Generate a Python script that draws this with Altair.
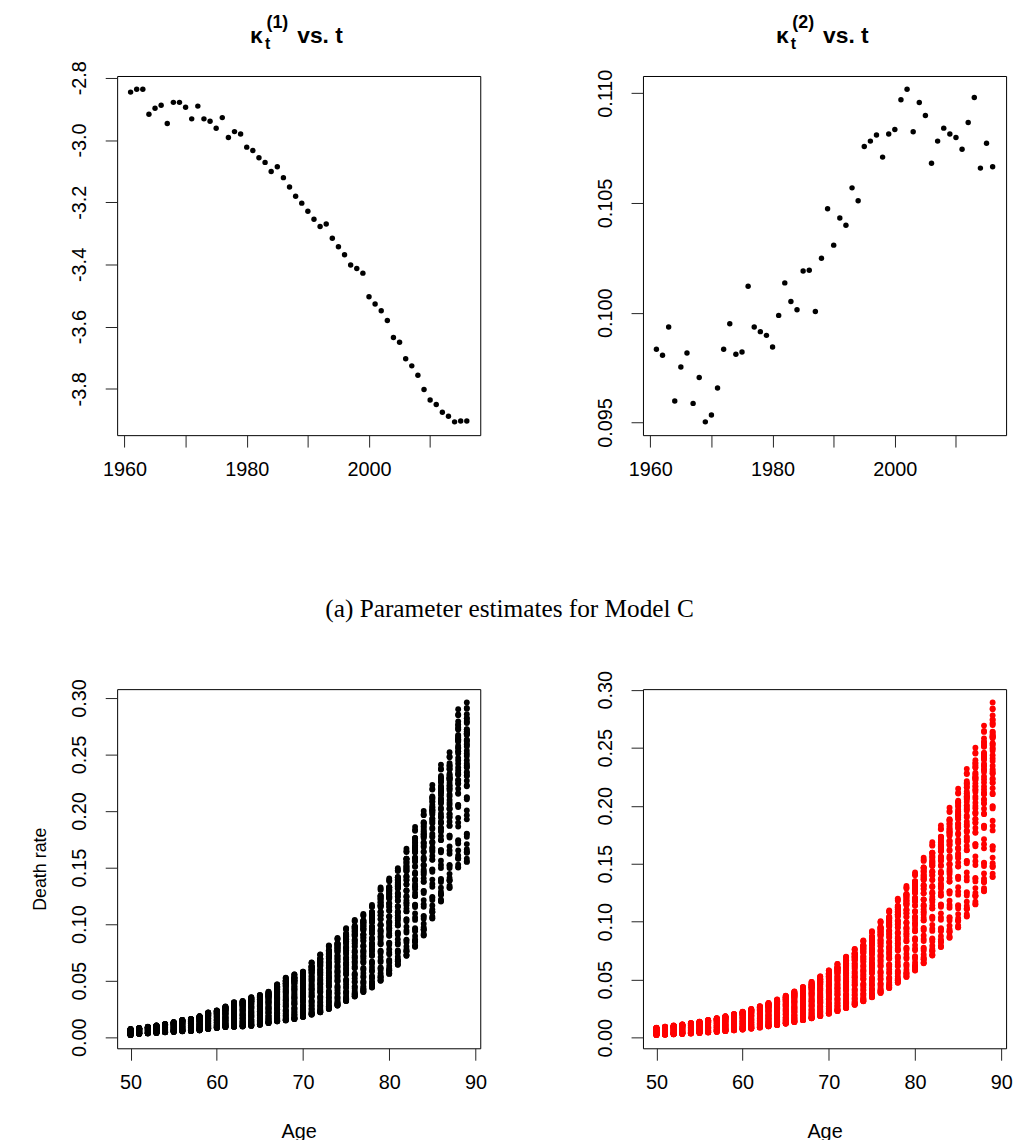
import altair as alt
import numpy as np
import pandas as pd

# ---------------- data ----------------
years = list(range(1961, 2017))

kappa1 = [-2.846, -2.837, -2.837, -2.917, -2.898, -2.888, -2.947, -2.879, -2.879, -2.895,
          -2.932, -2.891, -2.932, -2.940, -2.962, -2.928, -2.992, -2.973, -2.981, -3.023,
          -3.034, -3.057, -3.072, -3.101, -3.086, -3.121, -3.151, -3.181, -3.203, -3.229,
          -3.255, -3.278, -3.270, -3.316, -3.343, -3.369, -3.402, -3.413, -3.428, -3.504,
          -3.527, -3.549, -3.580, -3.635, -3.650, -3.703, -3.726, -3.756, -3.802, -3.836,
          -3.850, -3.875, -3.888, -3.906, -3.903, -3.903]

kappa2 = [0.09834, 0.09806, 0.09935, 0.09598, 0.09753, 0.09817, 0.09587, 0.09705, 0.09503, 0.09534,
          0.09657, 0.09834, 0.09950, 0.09811, 0.09821, 0.10121, 0.09935, 0.09914, 0.09897, 0.09844,
          0.09988, 0.10136, 0.10051, 0.10014, 0.10190, 0.10194, 0.10006, 0.10248, 0.10474, 0.10308,
          0.10432, 0.10399, 0.10569, 0.10510, 0.10757, 0.10782, 0.10810, 0.10709, 0.10814, 0.10835,
          0.10970, 0.11018, 0.10825, 0.10958, 0.10899, 0.10681, 0.10782, 0.10841, 0.10814, 0.10798,
          0.10745, 0.10867, 0.10981, 0.10659, 0.10772, 0.10665]

ages = list(range(50, 90))

# observed death-rate extent per age (highest / lowest dot of each column)
obs_top = [0.0073, 0.0082, 0.0093, 0.0105, 0.0117, 0.0134, 0.0154, 0.0163, 0.0187, 0.0219,
           0.0237, 0.0272, 0.0310, 0.0321, 0.0354, 0.0374, 0.0403, 0.0468, 0.0526, 0.0555,
           0.0579, 0.0661, 0.0733, 0.0812, 0.0877, 0.0965, 0.1038, 0.1090, 0.1169, 0.1325,
           0.1404, 0.1494, 0.1667, 0.1860, 0.2000, 0.2230, 0.2410, 0.2520, 0.2900, 0.2960]
obs_bottom = [0.0020, 0.0030, 0.0034, 0.0038, 0.0044, 0.0047, 0.0053, 0.0055, 0.0061, 0.0073,
              0.0082, 0.0090, 0.0093, 0.0096, 0.0102, 0.0111, 0.0126, 0.0141, 0.0149, 0.0161,
              0.0180, 0.0200, 0.0220, 0.0250, 0.0280, 0.0320, 0.0360, 0.0400, 0.0440, 0.0500,
              0.0560, 0.0640, 0.0720, 0.0800, 0.0900, 0.1050, 0.1200, 0.1320, 0.1500, 0.1550]

caption_text = "(a) Parameter estimates for Model C"

# ---------------- tables ----------------
kappa_df = pd.DataFrame({"Year": years, "k1": kappa1, "k2": kappa2})

# Model C (CBD): logit q(x,t) = kappa1_t + kappa2_t * (x - mean age)
k1 = np.array(kappa1)
k2 = np.array(kappa2)
xbar = float(np.mean(ages))
fit_rows, obs_rows = [], []
for i, a in enumerate(ages):
    q = 1.0 / (1.0 + np.exp(-(k1 + k2 * (a - xbar))))
    lo, hi = q.min(), q.max()
    for t, qq in zip(years, q):
        fit_rows.append({"Age": a, "Year": t, "rate": float(qq)})
        rel = (qq - lo) / (hi - lo)
        obs_rows.append({"Age": a, "Year": t,
                         "rate": obs_bottom[i] + rel * (obs_top[i] - obs_bottom[i])})
fit_df = pd.DataFrame(fit_rows)
obs_df = pd.DataFrame(obs_rows)


def rdom(vals):
    lo, hi = float(min(vals)), float(max(vals))
    d = 0.04 * (hi - lo)
    return [lo - d, hi + d]


FONT = "Liberation Sans"
W, H = 366, 362

year_axis = alt.Axis(values=[1960, 1970, 1980, 1990, 2000, 2010], format="d",
                     labelExpr="datum.value % 20 == 0 ? datum.label : ''",
                     title=None, labelFlush=False)
age_axis = alt.Axis(values=[50, 60, 70, 80, 90], format="d", title="Age",
                    labelFlush=False, titlePadding=29)


def yaxis(vals, fmt, title=None):
    kw = dict(values=vals, format=fmt, labelAngle=270, labelAlign="center",
              labelBaseline="bottom", labelPadding=16,
              labelExpr="replace(datum.label, '\u2212', '-')")
    if title:
        kw.update(title=title, titlePadding=20, titleFontSize=18)
    else:
        kw.update(title=None)
    return alt.Axis(**kw)


def scatter(df, xf, yf, xdom, ydom, xax, yax, color, size):
    return alt.Chart(df).mark_circle(size=size, color=color, opacity=1).encode(
        x=alt.X(xf, type="quantitative", scale=alt.Scale(domain=xdom, nice=False, zero=False), axis=xax),
        y=alt.Y(yf, type="quantitative", scale=alt.Scale(domain=ydom, nice=False, zero=False), axis=yax),
    )


one = pd.DataFrame({"k": [0]})


def text_mark(txt, px, py, fs, font=FONT, weight="bold", align="left", baseline="alphabetic"):
    return alt.Chart(one).mark_text(text=txt, font=font, fontSize=fs, fontWeight=weight,
                                    align=align, baseline=baseline, color="black").encode(
        x=alt.value(px), y=alt.value(py))


def kappa_title(sup):
    parts = [("\u03ba", 134, -33, 23), ("t", 149, -27, 16), (sup, 150.5, -48, 18), ("vs. t", 181.5, -33, 23)]
    return [text_mark(t, px, py, fs) for t, px, py, fs in parts]


frame = alt.ViewBackground(stroke="black", strokeWidth=1)

tl = alt.layer(
    scatter(kappa_df, "Year", "k1", rdom(years), rdom(kappa1), year_axis,
            yaxis([-3.8, -3.6, -3.4, -3.2, -3.0, -2.8], ".1f"), "black", 30),
    *kappa_title("(1)")
).properties(width=W, height=H, view=frame)

tr = alt.layer(
    scatter(kappa_df, "Year", "k2", rdom(years), rdom(kappa2), year_axis,
            yaxis([0.095, 0.100, 0.105, 0.110], ".3f"), "black", 30),
    *kappa_title("(2)")
).properties(width=W, height=H, view=frame)

bl = alt.layer(
    scatter(obs_df, "Age", "rate", rdom(ages), rdom(obs_df["rate"]), age_axis,
            yaxis([0, 0.05, 0.10, 0.15, 0.20, 0.25, 0.30], ".2f", "Death rate"), "black", 35),
    text_mark(caption_text, 395.5, -81, 25.5, font="Liberation Serif", weight="normal",
              align="center", baseline="middle"),
).properties(width=W, height=H, view=frame)

br = scatter(fit_df, "Age", "rate", rdom(ages), rdom(fit_df["rate"]), age_axis,
             yaxis([0, 0.05, 0.10, 0.15, 0.20, 0.25, 0.30], ".2f"), "#ff0000", 35
             ).properties(width=W, height=H, view=frame)

chart = alt.concat(tl, tr, bl, br, columns=2, spacing={"row": 256, "column": 164},
                   bounds="flush").properties(
    padding={"left": 23, "top": 1, "right": 5, "bottom": 5}
).configure_axis(
    labelFont=FONT, labelFontSize=20, labelColor="black", labelPadding=13,
    tickColor="#222", tickSize=12, tickWidth=1, domain=False, grid=False,
    titleFont=FONT, titleFontSize=20, titleFontWeight="normal", titleColor="black",
)

chart.save("out.html", embed_options={"renderer": "svg", "actions": False})
